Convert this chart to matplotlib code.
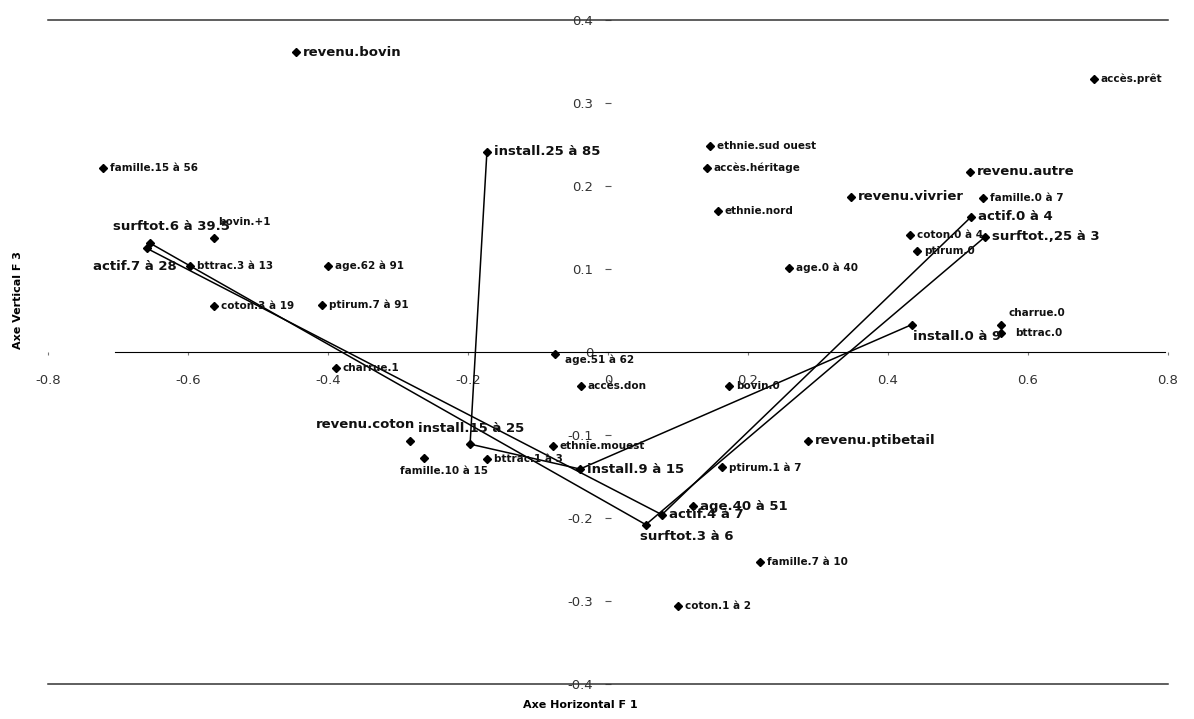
import matplotlib
matplotlib.use('Agg')
import matplotlib.pyplot as plt

names = ['revenu.bovin', 'famille.15 à 56', 'install.25 à 85', 'ethnie.sud ouest',
         'accès.héritage', 'ethnie.nord', 'accès.prêt', 'revenu.autre',
         'revenu.vivrier', 'famille.0 à 7', 'actif.0 à 4', 'coton.0 à 4',
         'surftot.,25 à 3', 'ptirum.0', 'age.0 à 40', 'charrue.0', 'bttrac.0',
         'install.0 à 9', 'surftot.6 à 39.5', 'bovin.+1', 'actif.7 à 28',
         'bttrac.3 à 13', 'age.62 à 91', 'coton.3 à 19', 'ptirum.7 à 91',
         'charrue.1', 'age.51 à 62', 'accès.don', 'bovin.0', 'revenu.coton',
         'install.15 à 25', 'famille.10 à 15', 'bttrac.1 à 3', 'ethnie.mouest',
         'install.9 à 15', 'ptirum.1 à 7', 'revenu.ptibetail', 'age.40 à 51',
         'actif.4 à 7', 'surftot.3 à 6', 'famille.7 à 10', 'coton.1 à 2']
xs = [-0.446, -0.721, -0.173, 0.146, 0.141, 0.157, 0.694, 0.517,
      0.347, 0.536, 0.519, 0.431, 0.539, 0.441, 0.259, 0.561, 0.561,
      0.434, -0.654, -0.563, -0.659, -0.597, -0.400, -0.563, -0.409,
      -0.389, -0.076, -0.039, 0.173, -0.283, -0.197, -0.263, -0.173, -0.079,
      -0.040, 0.163, 0.286, 0.121, 0.077, 0.054, 0.217, 0.100]
ys = [0.361, 0.222, 0.241, 0.248, 0.222, 0.170, 0.329, 0.217,
      0.187, 0.186, 0.163, 0.141, 0.139, 0.122, 0.101, 0.033, 0.023,
      0.033, 0.131, 0.137, 0.125, 0.104, 0.104, 0.055, 0.057,
      -0.019, -0.002, -0.041, -0.041, -0.107, -0.111, -0.128, -0.129, -0.113,
      -0.141, -0.139, -0.107, -0.186, -0.196, -0.208, -0.253, -0.306]

big = ['revenu.bovin', 'install.25 à 85', 'revenu.autre', 'revenu.vivrier',
       'actif.0 à 4', 'surftot.,25 à 3', 'install.0 à 9', 'surftot.6 à 39.5',
       'actif.7 à 28', 'revenu.coton', 'install.15 à 25', 'install.9 à 15',
       'revenu.ptibetail', 'age.40 à 51', 'actif.4 à 7', 'surftot.3 à 6']

paths = [['actif.7 à 28', 'actif.4 à 7', 'actif.0 à 4'],
         ['surftot.6 à 39.5', 'surftot.3 à 6', 'surftot.,25 à 3'],
         ['install.25 à 85', 'install.15 à 25', 'install.9 à 15', 'install.0 à 9']]

xticks = [-0.8, -0.6, -0.4, -0.2, 0, 0.2, 0.4, 0.6, 0.8]
yticks = [-0.4, -0.3, -0.2, -0.1, 0, 0.1, 0.2, 0.3, 0.4]

# label offsets in pixels (dx, dy, ha)
offsets = {
    'surftot.6 à 39.5': (-37, 17, 'left'),
    'bovin.+1': (4, 16, 'left'),
    'actif.7 à 28': (-54, -18, 'left'),
    'revenu.coton': (5, 16, 'right'),
    'install.15 à 25': (-52, 16, 'left'),
    'famille.10 à 15': (-24, -13, 'left'),
    'surftot.3 à 6': (-6, -12, 'left'),
    'age.51 à 62': (10, -6, 'left'),
    'charrue.0': (8, 12, 'left'),
    'bttrac.0': (14, 0, 'left'),
    'install.0 à 9': (1, -12, 'left'),
}

fig = plt.figure(figsize=(11.94, 7.19), dpi=100)
ax = fig.add_axes([48/1194, 1-684/719, 1120/1194, 664/719])
ax.set_xlim(-0.8, 0.8)
ax.set_ylim(-0.4, 0.4)

pos = dict(zip(names, zip(xs, ys)))
for p in paths:
    ax.plot([pos[n][0] for n in p], [pos[n][1] for n in p], '-', color='black', lw=1.1, zorder=2)

ax.plot(xs, ys, 'D', color='black', markersize=4.5, zorder=3)

for n, x, y in zip(names, xs, ys):
    dx, dy, ha = offsets.get(n, (7, 0, 'left'))
    if n in big:
        ax.annotate(n, (x, y), xytext=(dx, dy), textcoords='offset pixels', ha=ha, va='center',
                    fontsize=9.5, fontweight='bold', family='DejaVu Sans', color='#111111')
    else:
        ax.annotate(n, (x, y), xytext=(dx, dy), textcoords='offset pixels', ha=ha, va='center',
                    fontsize=7.5, fontweight='bold', family=['Liberation Sans Narrow', 'DejaVu Sans'],
                    color='#111111')

ax.spines['left'].set_position(('data', 0))
ax.spines['left'].set_visible(False)
ax.spines['bottom'].set_position(('data', 0))
ax.spines['bottom'].set_bounds(-0.705, 0.795)
ax.spines['bottom'].set_color('black')
ax.spines['right'].set_visible(False)
ax.spines['top'].set_color('#333333')
ax.spines['top'].set_linewidth(1.1)
ax.axhline(-0.4, color='#333333', lw=1.1, clip_on=False)

ax.set_xticks(xticks)
ax.set_xticklabels(['-0.8', '-0.6', '-0.4', '-0.2', '0', '0.2', '0.4', '0.6', '0.8'])
ax.set_yticks(yticks)
ax.set_yticklabels(['-0.4', '-0.3', '-0.2', '-0.1', '0', '0.1', '0.2', '0.3', '0.4'])
ax.tick_params(axis='x', length=2, pad=14, labelsize=9.5, labelcolor='#333333', color='#777777')
ax.tick_params(axis='y', length=5, direction='inout', pad=8, labelsize=9.5, labelcolor='#333333', color='#555555')

fig.text(580/1194, 1-705/719, 'Axe Horizontal F 1', ha='center', va='center',
         fontsize=8, fontweight='bold')
fig.text(18/1194, 1-300/719, 'Axe Vertical F 3', ha='center', va='center',
         rotation=90, fontsize=8, fontweight='bold')

fig.savefig('out.png', dpi=100, facecolor='white')
